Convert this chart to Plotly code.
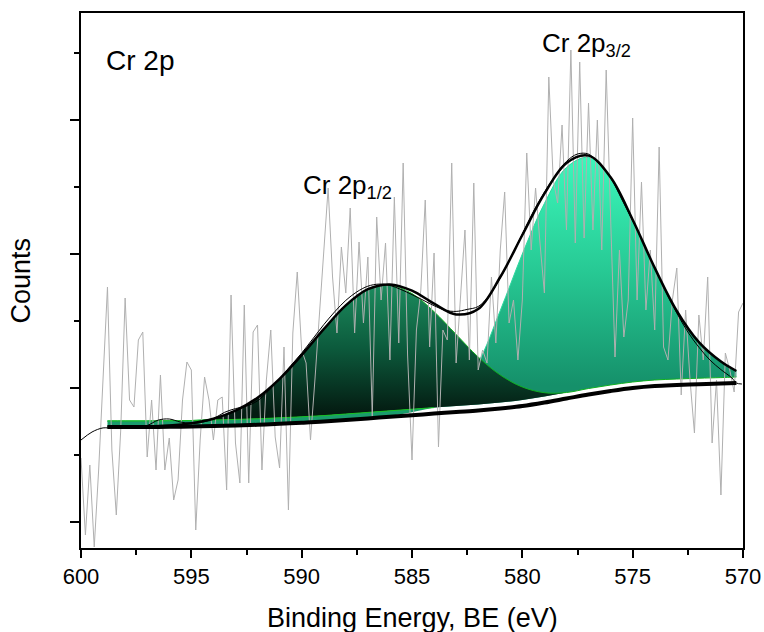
import numpy as np
import plotly.graph_objects as go

# ---------------- data ----------------
# fit grid (binding energy, eV)
E_fit = [598.8, 598, 597, 596, 595, 594, 593, 592, 591, 590, 589, 588, 587, 586, 585,
         584, 583, 582, 581, 580, 579, 578, 577, 576, 575, 574, 573, 572, 571, 570.3]
# Shirley background (counts)
background = [1210, 1210, 1210, 1212, 1215, 1220, 1226, 1232, 1242, 1252, 1264, 1280, 1296, 1312, 1328,
              1344, 1360, 1375, 1395, 1420, 1455, 1495, 1535, 1570, 1600, 1620, 1630, 1638, 1644, 1650]
# Cr 2p1/2 component (counts above background)
peak_2p12 = [1, 2, 5, 13, 33, 73, 148, 270, 449, 677, 924, 1146, 1289, 1314, 1216,
             1019, 776, 535, 335, 190, 98, 46, 19, 7, 3, 1, 0, 0, 0, 0]
# Cr 2p3/2 component (counts above background)
peak_2p32 = [0, 0, 0, 0, 0, 0, 0, 0, 0, 0, 0, 0, 3, 10, 30,
             80, 200, 480, 980, 1520, 1990, 2310, 2370, 2130, 1680, 1180, 740, 420, 220, 120]
# cumulative fit envelope
envelope = [1211, 1212, 1215, 1225, 1248, 1293, 1374, 1502, 1691, 1929, 2188, 2426, 2588, 2636, 2574,
            2443, 2336, 2390, 2710, 3130, 3543, 3851, 3924, 3707, 3283, 2801, 2370, 2058, 1864, 1770]

# smoothed spectrum
E_smooth = [600, 599.5, 599, 598.5, 598, 597.5, 597, 596.5, 596, 595.5, 595, 594.5, 594, 593.5, 593,
            592.5, 592, 591.5, 591, 590.5, 590, 589.5, 589, 588.5, 588, 587.5, 587, 586.5, 586, 585.5,
            585, 584.5, 584, 583.5, 583, 582.5, 582, 581.5, 581, 580.5, 580, 579.5, 579, 578.5, 578,
            577.5, 577, 576.5, 576, 575.5, 575, 574.5, 574, 573.5, 573, 572.5, 572, 571.5, 571, 570.5,
            570.3, 570.05]
smooth = [1080, 1160, 1201, 1196, 1217, 1208, 1225, 1279, 1290, 1260, 1248, 1258, 1293, 1356, 1394,
          1419, 1472, 1572, 1691, 1822, 1949, 2090, 2233, 2363, 2476, 2561, 2618, 2639, 2626, 2585,
          2534, 2479, 2423, 2378, 2366, 2386, 2415, 2525, 2700, 2915, 3140, 3365, 3558, 3725, 3866,
          3940, 3939, 3835, 3702, 3490, 3273, 3045, 2801, 2565, 2350, 2160, 2008, 1880, 1784, 1700,
          1650, 1640]

# raw spectrum, 0.2 eV steps from 600 to 570 eV
E_raw = [600.0, 599.8, 599.6, 599.4, 599.2, 599.0, 598.8, 598.6, 598.4, 598.2,
         598.0, 597.8, 597.6, 597.4, 597.2, 597.0, 596.8, 596.6, 596.4, 596.2,
         596.0, 595.8, 595.6, 595.4, 595.2, 595.0, 594.8, 594.6, 594.4, 594.2,
         594.0, 593.8, 593.6, 593.4, 593.2, 593.0, 592.8, 592.6, 592.4, 592.2,
         592.0, 591.8, 591.6, 591.4, 591.2, 591.0, 590.8, 590.6, 590.4, 590.2,
         590.0, 589.8, 589.6, 589.4, 589.2, 589.0, 588.8, 588.6, 588.4, 588.2,
         588.0, 587.8, 587.6, 587.4, 587.2, 587.0, 586.8, 586.6, 586.4, 586.2,
         586.0, 585.8, 585.6, 585.4, 585.2, 585.0, 584.8, 584.6, 584.4, 584.2,
         584.0, 583.8, 583.6, 583.4, 583.2, 583.0, 582.8, 582.6, 582.4, 582.2,
         582.0, 581.8, 581.6, 581.4, 581.2, 581.0, 580.8, 580.6, 580.4, 580.2,
         580.0, 579.8, 579.6, 579.4, 579.2, 579.0, 578.8, 578.6, 578.4, 578.2,
         578.0, 577.8, 577.6, 577.4, 577.2, 577.0, 576.8, 576.6, 576.4, 576.2,
         576.0, 575.8, 575.6, 575.4, 575.2, 575.0, 574.8, 574.6, 574.4, 574.2,
         574.0, 573.8, 573.6, 573.4, 573.2, 573.0, 572.8, 572.6, 572.4, 572.2,
         572.0, 571.8, 571.6, 571.4, 571.2, 571.0, 570.8, 570.6, 570.4, 570.2,
         570.0]
raw = [900, 130, 830, 10, 780, 1760, 2610, 980, 330, 1180,
       2500, 1480, 1410, 2080, 2160, 910, 1480, 780, 1730, 780,
       1100, 480, 680, 1480, 1860, 1780, 180, 1080, 1710, 1480,
       1080, 1480, 1510, 580, 2530, 1050, 650, 2430, 650, 2160,
       2230, 780, 1680, 2180, 1110, 800, 2010, 380, 2150, 2760,
       1980, 1850, 1080, 1680, 2310, 3010, 3600, 2710, 2150, 3010,
       2550, 3400, 2150, 3060, 2250, 2910, 1310, 3310, 2480, 3050,
       1880, 3510, 2050, 3850, 1930, 880, 2180, 2580, 3480, 2010,
       2950, 1010, 2180, 2080, 3850, 1850, 2480, 3180, 1880, 3650,
       1780, 1980, 1850, 2710, 2050, 2980, 3560, 2250, 2480, 1880,
       2480, 3950, 2980, 3600, 3050, 2550, 4710, 3680, 3450, 4230,
       3180, 4980, 3050, 4860, 3100, 4450, 3180, 4280, 2980, 4780,
       3310, 1910, 2980, 2110, 2480, 4300, 2480, 3660, 2380, 2980,
       2180, 4010, 2010, 1880, 2480, 2800, 1530, 2380, 1680, 1150,
       2330, 1880, 2710, 1050, 1680, 530, 1950, 1780, 1560, 2360,
       2450]

x_ticks = [600, 595, 590, 585, 580, 575, 570]

# ---------------- styling ----------------
FONT = "Liberation Sans, Arial, sans-serif"
FILL_OFFSET = 60          # peak fills sit slightly above the background line
E = np.array(E_fit)
bg = np.array(background, dtype=float)
p1 = np.array(peak_2p12, dtype=float)
p2 = np.array(peak_2p32, dtype=float)
base = bg + FILL_OFFSET

fig = go.Figure()

# Cr 2p3/2 (light) fill
fig.add_trace(go.Scatter(x=E, y=base, mode="lines", line=dict(width=0, shape="spline"),
                         hoverinfo="skip", showlegend=False))
fig.add_trace(go.Scatter(x=E, y=bg + np.maximum(p2, FILL_OFFSET), mode="lines", fill="tonexty",
                         fillgradient=dict(type="vertical",
                                           colorscale=[[0, "#15906a"], [0.5, "#27c994"], [1, "#3cf8bb"]],
                                           start=1630, stop=3910),
                         line=dict(color="#2fd9a0", width=1, shape="spline"),
                         hoverinfo="skip", showlegend=False))

# Cr 2p1/2 (dark) fill
fig.add_trace(go.Scatter(x=E, y=base, mode="lines", line=dict(width=0, shape="spline"),
                         hoverinfo="skip", showlegend=False))
fig.add_trace(go.Scatter(x=E, y=bg + np.maximum(p1, FILL_OFFSET), mode="lines", fill="tonexty",
                         fillgradient=dict(type="vertical",
                                           colorscale=[[0, "#041c12"], [0.5, "#0c5a3c"], [1, "#1c8c5e"]],
                                           start=1360, stop=2630),
                         line=dict(color="#10b020", width=1, shape="spline"),
                         hoverinfo="skip", showlegend=False))

# light band under the 2p1/2 peak
m = E >= 584
fig.add_trace(go.Scatter(x=E[m], y=(bg + np.minimum(p2, FILL_OFFSET))[m], mode="lines",
                         line=dict(width=0, shape="spline"), hoverinfo="skip", showlegend=False))
fig.add_trace(go.Scatter(x=E[m], y=base[m], mode="lines", fill="tonexty", fillcolor="#1a9c6c",
                         line=dict(color="#18c020", width=1, shape="spline"),
                         hoverinfo="skip", showlegend=False))

# raw data
fig.add_trace(go.Scatter(x=E_raw, y=raw, mode="lines", line=dict(color="#b0b0b0", width=1),
                         hoverinfo="skip", showlegend=False))
# smoothed data
fig.add_trace(go.Scatter(x=E_smooth, y=smooth, mode="lines",
                         line=dict(color="black", width=1, shape="spline"),
                         hoverinfo="skip", showlegend=False))
# background
fig.add_trace(go.Scatter(x=E, y=bg, mode="lines", line=dict(color="black", width=4, shape="spline"),
                         hoverinfo="skip", showlegend=False))
# envelope
fig.add_trace(go.Scatter(x=E_fit, y=envelope, mode="lines",
                         line=dict(color="black", width=2.5, shape="spline"),
                         hoverinfo="skip", showlegend=False))

fig.update_layout(
    width=764, height=632,
    margin=dict(l=81, r=21, t=13, b=84, autoexpand=False),
    paper_bgcolor="white", plot_bgcolor="white",
    font=dict(family=FONT, color="black"),
    showlegend=False,
    xaxis=dict(range=[600, 570], tickmode="array", tickvals=x_ticks,
               ticktext=[str(v) for v in x_ticks], automargin=False,
               showline=True, linecolor="black", linewidth=1.5, mirror=True,
               ticks="outside", ticklen=8, tickwidth=1.5, tickcolor="black",
               minor=dict(ticks="outside", ticklen=5, tickwidth=1.5, tickcolor="black", dtick=2.5, tick0=570),
               tickfont=dict(size=22, family=FONT), showgrid=False, zeroline=False),
    yaxis=dict(range=[0, 5350], tick0=260, dtick=1340, automargin=False,
               showline=True, linecolor="black", linewidth=1.5, mirror=True,
               ticks="outside", ticklen=9, tickwidth=1.5, tickcolor="black",
               minor=dict(ticks="outside", ticklen=5, tickwidth=1.5, tickcolor="black", dtick=670, tick0=260),
               showticklabels=False, showgrid=False, zeroline=False),
    annotations=[
        dict(text="Binding Energy, BE (eV)", xref="paper", yref="paper", x=0.5, y=-0.131,
             xanchor="center", yanchor="middle", showarrow=False, font=dict(size=27, family=FONT)),
        dict(text="Counts", xref="paper", yref="paper", x=-0.092, y=0.5, textangle=-90,
             xanchor="center", yanchor="middle", showarrow=False, font=dict(size=27, family=FONT)),
        dict(text="Cr 2p", x=598.95, y=4880, xanchor="left", yanchor="middle", showarrow=False,
             font=dict(size=28, family=FONT)),
        dict(text="Cr 2p<sub>1/2</sub>", x=590.05, y=3620, xanchor="left", yanchor="middle",
             showarrow=False, font=dict(size=26, family=FONT)),
        dict(text="Cr 2p<sub>3/2</sub>", x=579.2, y=5040, xanchor="left", yanchor="middle",
             showarrow=False, font=dict(size=26, family=FONT)),
    ],
)

fig.write_html("out.html")
